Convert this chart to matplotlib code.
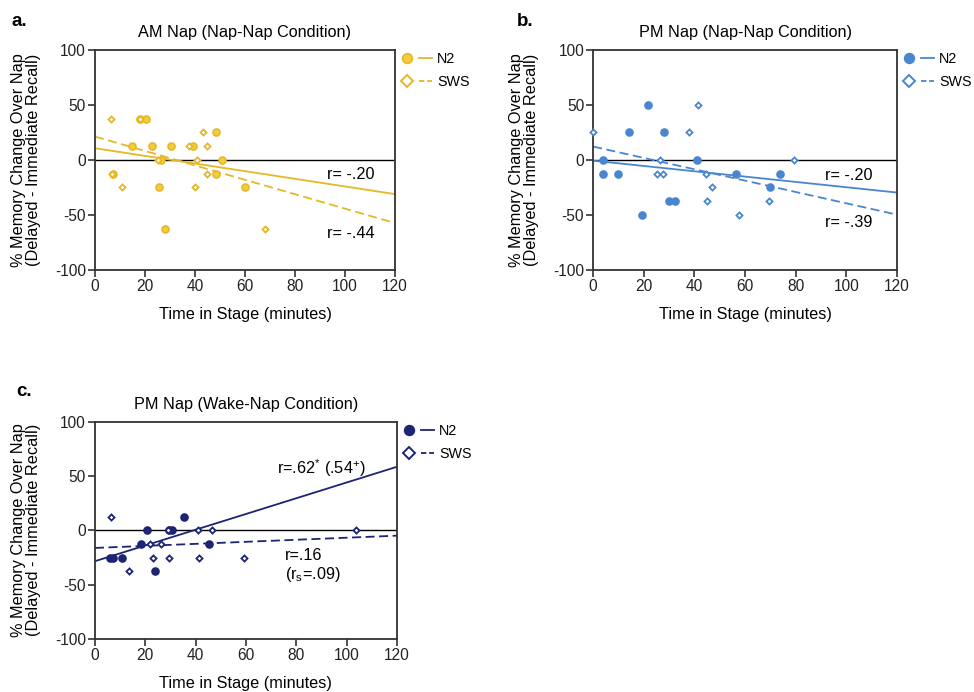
import matplotlib
matplotlib.use("Agg")
import matplotlib.pyplot as plt
from matplotlib.lines import Line2D
from matplotlib.legend_handler import HandlerTuple
import numpy as np

plt.rcParams["font.family"] = ["Liberation Sans", "DejaVu Sans"]
plt.rcParams["mathtext.default"] = "regular"
plt.rcParams["axes.unicode_minus"] = False

# ---- data ----
# a. AM Nap (Nap-Nap)
a_n2_x = [18, 20.3, 15, 22.7, 30.3, 48.4, 51, 26.4, 7.3, 48.4, 25.7, 60, 28, 39.3]
a_n2_y = [37.5, 37.5, 12.5, 12.5, 12.5, 25, 0, 0, -12.5, -12.5, -25, -25, -62.5, 12.5]
a_sws_x = [6.3, 18, 11, 25.3, 37.7, 43.3, 45, 45, 40, 40.7, 68, 7]
a_sws_y = [37.5, 37.5, -25, 0, 12.5, 25, 12.5, -12.5, -25, 0, -62.5, -12.5]
a_fit_n2 = [10.7, -31]      # y at x=0 and x=120
a_fit_sws = [21.3, -57.3]

# b. PM Nap (Nap-Nap)
b_n2_x = [21.8, 14.2, 28, 4, 40.9, 4, 9.9, 56.5, 73.9, 69.9, 30, 32.3, 19.3]
b_n2_y = [50, 25, 25, 0, 0, -12.5, -12.5, -12.5, -12.5, -25, -37.5, -37.5, -50]
b_sws_x = [0, 41.3, 37.9, 26.4, 79.4, 25.1, 27.7, 44.6, 47, 45.1, 69.3, 57.5]
b_sws_y = [25, 50, 25, 0, 0, -12.5, -12.5, -12.5, -25, -37.5, -37.5, -50]
b_fit_n2 = [-0.6, -29.6]
b_fit_sws = [12.2, -49.7]

# c. PM Nap (Wake-Nap)
c_n2_x = [6, 7.3, 10.8, 18.3, 20.8, 23.8, 29.4, 30.8, 35.4, 45.4]
c_n2_y = [-25, -25, -25, -12.5, 0, -37.5, 0, 0, 12.5, -12.5]
c_sws_x = [6.2, 13.5, 21.8, 22.9, 26.2, 29.4, 29, 41, 41.4, 46.4, 59.4, 103.6]
c_sws_y = [12.5, -37.5, -12.5, -25, -12.5, -25, 0, 0, -25, 0, -25, 0]
c_fit_n2 = [-28.4, 58.5]
c_fit_sws = [-16.2, -4.9]

fit_x = [0, 120]

GOLD = "#E5B825"
GOLD_FACE = "#F3CD3E"
BLUE = "#4A86D0"
NAVY = "#1C2473"


def draw_panel(ax, n2_x, n2_y, sws_x, sws_y, fit_n2, fit_sws, color, face, title):
    ax.axhline(0, color="black", lw=1.0, zorder=1)
    ax.plot(fit_x, fit_n2, color=color, lw=1.3, zorder=2)
    ax.plot(fit_x, fit_sws, color=color, lw=1.3, ls=(0, (5, 2.5)), zorder=2)
    ax.plot(n2_x, n2_y, ls="none", marker="o", ms=5, mfc=face, mec=color,
            mew=1.2, zorder=3, clip_on=False)
    ax.plot(sws_x, sws_y, ls="none", marker="D", ms=3.1, mfc="white", mec=color,
            mew=1.3, zorder=4, clip_on=False)

    ax.set_xlim(0, 120)
    ax.set_ylim(-100, 100)
    ax.set_xticks(np.arange(0, 121, 20))
    ax.set_yticks([-100, -50, 0, 50, 100])
    ax.tick_params(direction="out", length=5, width=1.1, labelsize=11.2,
                   colors="#222222", pad=1.5)
    for sp in ax.spines.values():
        sp.set_color("#333333")
        sp.set_linewidth(1.3)
    ax.set_title(title, fontsize=11.7, pad=9)
    ax.set_xlabel("Time in Stage (minutes)", fontsize=11.7, labelpad=9)
    ax.set_ylabel("% Memory Change Over Nap\n(Delayed - Immediate Recall)",
                  fontsize=11.7, labelpad=10, linespacing=1.0)

    h_n2 = (Line2D([], [], ls="none", marker="o", ms=7, mfc=face, mec=color, mew=1.2),
            Line2D([], [], color=color, lw=1.3))
    h_sws = (Line2D([], [], ls="none", marker="D", ms=6, mfc="white", mec=color, mew=1.4),
             Line2D([], [], color=color, lw=1.3, ls=(0, (3, 1.5))))
    ax.legend([h_n2, h_sws], ["N2", "SWS"],
              handler_map={tuple: HandlerTuple(ndivide=None, pad=0.4)},
              loc="upper left", bbox_to_anchor=(1.0, 1.017), frameon=False,
              borderaxespad=0.0, handlelength=2.2, handletextpad=0.35,
              labelspacing=0.65, fontsize=10.3)


fig = plt.figure(figsize=(9.74, 6.92), dpi=100)
ax_a = fig.add_axes([0.0975, 0.6098, 0.308, 0.318])
ax_b = fig.add_axes([0.609, 0.6098, 0.312, 0.318])
ax_c = fig.add_axes([0.0975, 0.0766, 0.310, 0.314])

draw_panel(ax_a, a_n2_x, a_n2_y, a_sws_x, a_sws_y, a_fit_n2, a_fit_sws,
           GOLD, GOLD_FACE, "AM Nap (Nap-Nap Condition)")
draw_panel(ax_b, b_n2_x, b_n2_y, b_sws_x, b_sws_y, b_fit_n2, b_fit_sws,
           BLUE, BLUE, "PM Nap (Nap-Nap Condition)")
draw_panel(ax_c, c_n2_x, c_n2_y, c_sws_x, c_sws_y, c_fit_n2, c_fit_sws,
           NAVY, NAVY, "PM Nap (Wake-Nap Condition)")

ax_a.text(93, -13, "r= -.20", fontsize=11.7, va="center")
ax_a.text(93, -66.5, "r= -.44", fontsize=11.7, va="center")
ax_b.text(91.6, -13.7, "r= -.20", fontsize=11.7, va="center")
ax_b.text(91.6, -57, "r= -.39", fontsize=11.7, va="center")
ax_c.text(72.2, 57.6, "r=.62$^{*}$ (.54$^{+}$)", fontsize=11.7, va="center")
ax_c.text(75.4, -22.9, "r=.16", fontsize=11.7, va="center")
ax_c.text(75.4, -41, "(r$_{s}$=.09)", fontsize=11.7, va="center")

fig.text(0.012, 0.981, "a.", fontsize=13.5, fontweight="bold", va="top")
fig.text(0.531, 0.981, "b.", fontsize=13.5, fontweight="bold", va="top")
fig.text(0.017, 0.447, "c.", fontsize=13.5, fontweight="bold", va="top")

fig.savefig("out.png", dpi=100)
